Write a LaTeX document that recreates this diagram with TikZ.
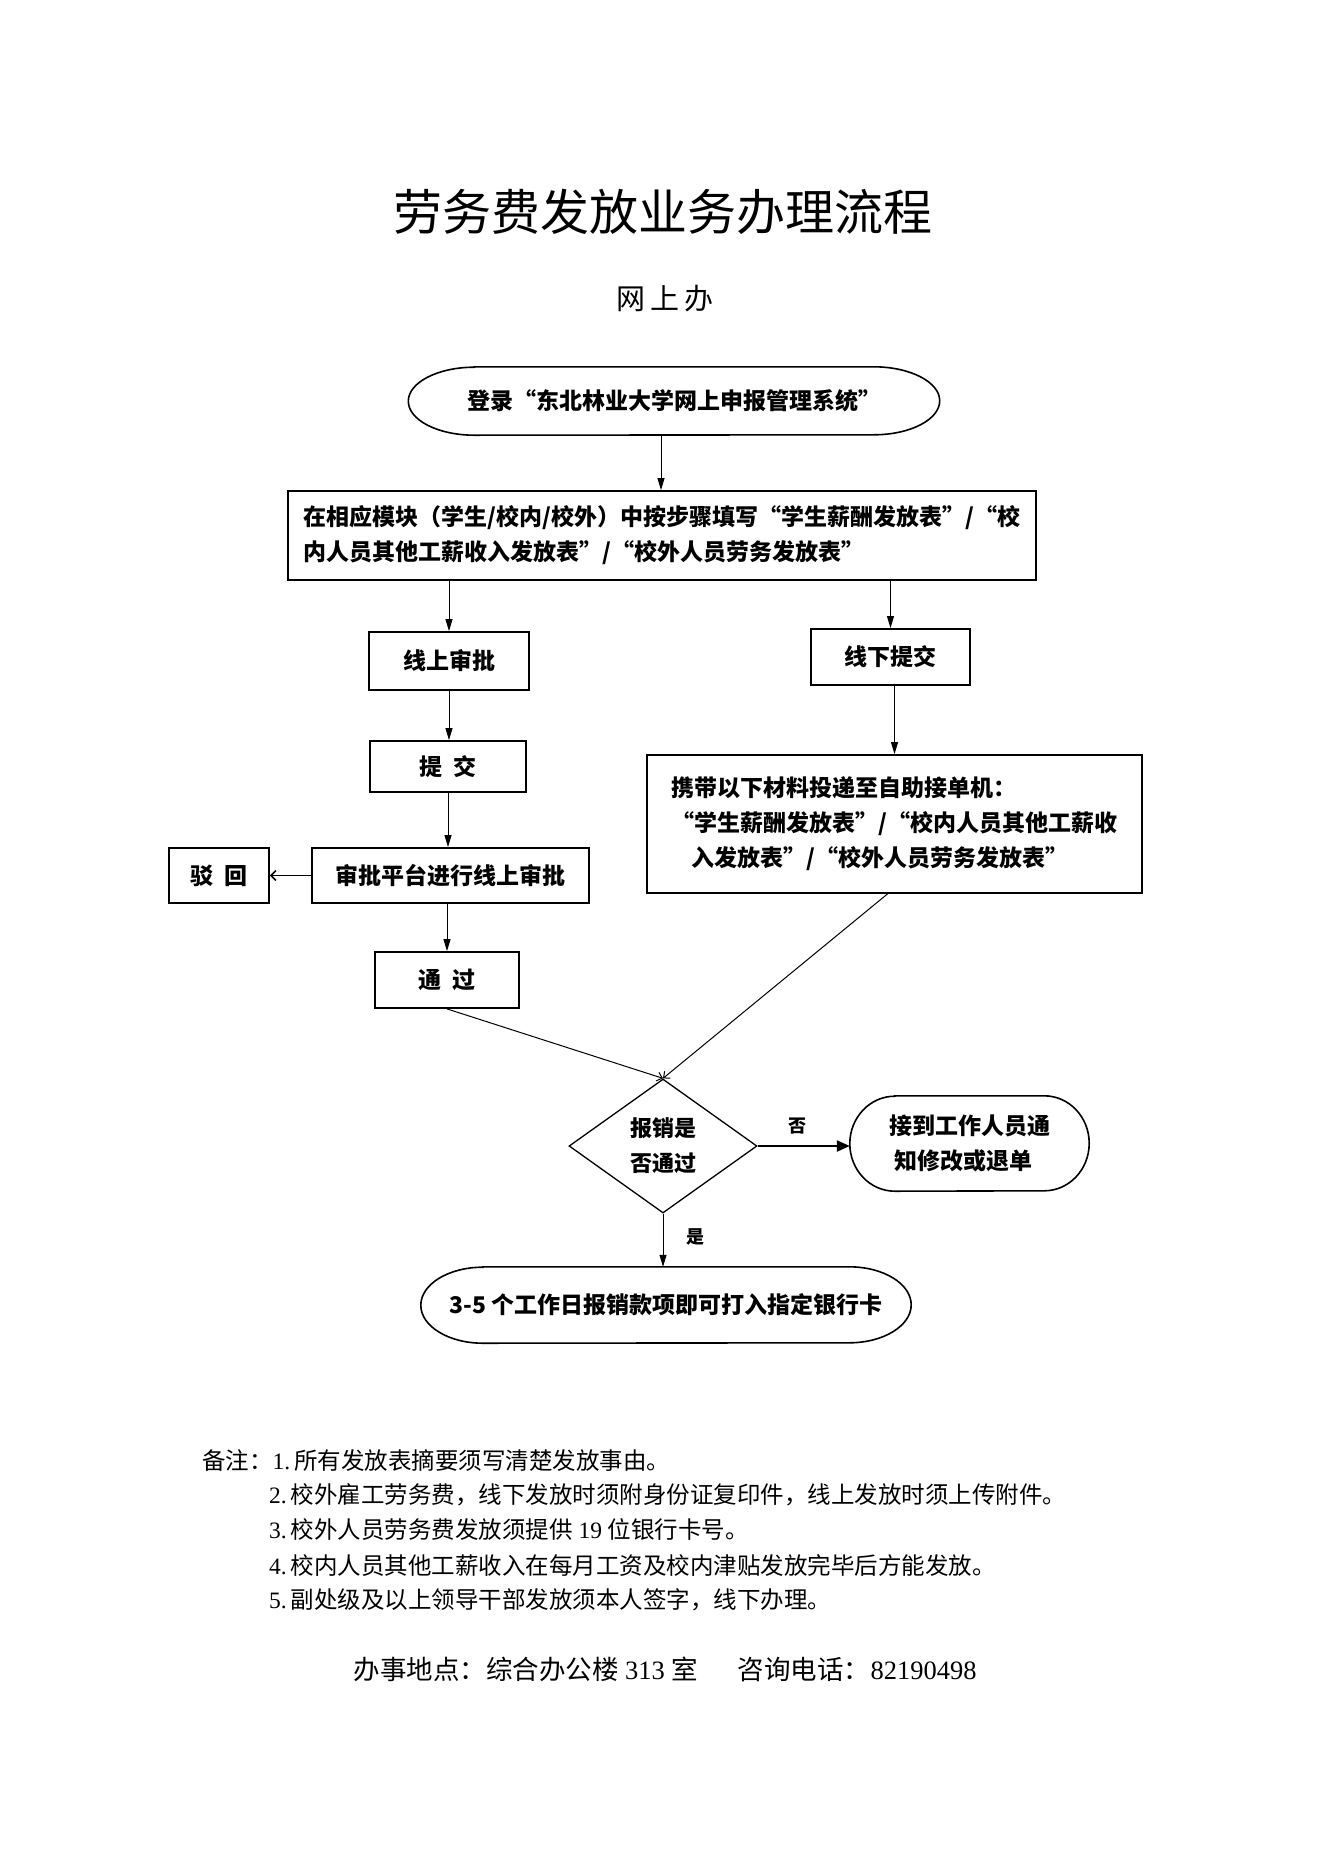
\documentclass[tikz,border=0pt]{standalone}
\usepackage{fontspec}
\setmainfont{Noto Sans CJK SC}
\newfontfamily\tnr{Liberation Serif}
\usetikzlibrary{arrows.meta,shapes.geometric}
\newcommand\mystad[3]{\draw[line width=1.6pt] ([xshift=#2]#1.north west) -- ([xshift=-#2]#1.north east) arc[start angle=90,end angle=-90,x radius=#2,y radius=#3] -- ([xshift=#2]#1.south west) arc[start angle=270,end angle=90,x radius=#2,y radius=#3] -- cycle;}
\tikzset{
  bx/.style={draw, line width=1.8pt, inner sep=0pt, font=\fontsize{23}{35}\selectfont\bfseries},
  term/.style={inner sep=0pt, font=\fontsize{23}{35}\selectfont\bfseries},
  arr/.style={line width=1pt, -{Triangle[length=12pt,width=7pt]}},
  barb/.style={line width=1pt, -{Straight Barb[length=5pt,width=9pt]}},
  thick arr/.style={line width=2.2pt, -{Triangle[length=13pt,width=11pt]}},
  note/.style={anchor=west, inner sep=0pt, font=\fontsize{23.5}{23.5}\selectfont},
  lbl/.style={inner sep=0pt, font=\fontsize{18}{18}\selectfont\bfseries}
}
\begin{document}
\begin{tikzpicture}[x=1pt,y=1pt]
\useasboundingbox (0,0) rectangle (1323,-1871);
\fill[white] (0,0) rectangle (1323,-1871);
% titles
\node[font=\fontsize{49}{49}\selectfont] (title) at (663,-212) {劳务费发放业务办理流程};
\node[font=\fontsize{29}{29}\selectfont] (sub) at (665,-299) {网\hspace{5pt}上\hspace{5pt}办};
% nodes
\node[term, minimum width=531pt, minimum height=68pt] (n1) at (674,-401) {登录“东北林业大学网上申报管理系统”};
\mystad{n1}{66}{34}
\node[bx, minimum width=748pt, minimum height=89pt, align=left] (b2) at (662,-535.5) {在相应模块（学生/校内/校外）中按步骤填写“学生薪酬发放表”/“校\\内人员其他工薪收入发放表”/“校外人员劳务发放表”};
\node[bx, minimum width=160pt, minimum height=58pt] (on) at (449,-661) {线上审批};
\node[bx, minimum width=159pt, minimum height=56pt] (xd) at (890.5,-657) {线下提交};
\node[bx, minimum width=156pt, minimum height=51pt] (tj) at (448,-766.5) {提\hspace{12pt}交};
\node[bx, minimum width=277pt, minimum height=55pt] (sp) at (450.5,-875.5) {审批平台进行线上审批};
\node[bx, minimum width=100pt, minimum height=55pt] (bh) at (219,-875.5) {驳\hspace{12pt}回};
\node[bx, minimum width=495pt, minimum height=138pt, align=left] (xb) at (894.5,-824) {携带以下材料投递至自助接单机：\\“学生薪酬发放表”/“校内人员其他工薪收\\\hspace{20pt}入发放表”/“校外人员劳务发放表”};
\node[bx, minimum width=144pt, minimum height=56pt] (tg) at (447,-980) {通\hspace{12pt}过};
\node[diamond, draw, line width=1.3pt, minimum width=188pt, minimum height=134pt, inner sep=0pt, align=center, font=\fontsize{22}{35}\selectfont\bfseries] (dm) at (663,-1146) {报销是\\否通过};
\node[term, minimum width=239pt, minimum height=95pt, align=left] (jd) at (969.5,-1143.5) {接到工作人员通\\\hspace{5pt}知修改或退单};
\mystad{jd}{45}{47.5}
\node[term, minimum width=490pt, minimum height=76pt] (bt) at (666,-1305) {3-5 个工作日报销款项即可打入指定银行卡};
\mystad{bt}{62}{38}
% connectors
\draw[arr] ([xshift=-13pt]n1.south) -- ([xshift=-13pt]n1.south |- b2.north);
\draw[arr] (b2.south -| on.north) -- (on.north);
\draw[arr] (b2.south -| xd.north) -- (xd.north);
\draw[arr] (on.south) -- (on.south |- tj.north);
\draw[arr] (tj.south) -- (tj.south |- sp.north);
\draw[arr] (sp.south -| tg.north) -- (tg.north);
\draw[line width=1.5pt, -{Straight Barb[length=5pt,width=10pt]}] (sp.west) -- (bh.east);
\draw[arr] (xd.south -| xb.north) -- (xb.north);
\draw[barb] (tg.south) -- (dm.north);
\draw[barb] ([xshift=-7pt]xb.south) -- (dm.north);
\draw[thick arr] (dm.east) -- (jd.west |- dm.east);
\draw[arr] (dm.south) -- (dm.south |- bt.north);
\node[lbl] (no) at (797,-1126) {否};
\node[lbl] (yes) at (695,-1237) {是};
% notes
\node[note] (r1) at (202,-1460) {备注：{\tnr 1.\,}所有发放表摘要须写清楚发放事由。};
\node[note] (r2) at (269,-1495) {{\tnr 2.\,}校外雇工劳务费，线下发放时须附身份证复印件，线上发放时须上传附件。};
\node[note] (r3) at (269,-1530) {{\tnr 3.\,}校外人员劳务费发放须提供{\tnr\ 19\ }位银行卡号。};
\node[note] (r4) at (269,-1565) {{\tnr 4.\,}校内人员其他工薪收入在每月工资及校内津贴发放完毕后方能发放。};
\node[note] (r5) at (269,-1600) {{\tnr 5.\,}副处级及以上领导干部发放须本人签字，线下办理。};
\node[font=\fontsize{26.5}{26.5}\selectfont] (ft) at (665,-1669) {办事地点：综合办公楼{\tnr\ 313\ }室\hspace{40pt}咨询电话：{\tnr 82190498}};
\end{tikzpicture}
\end{document}
